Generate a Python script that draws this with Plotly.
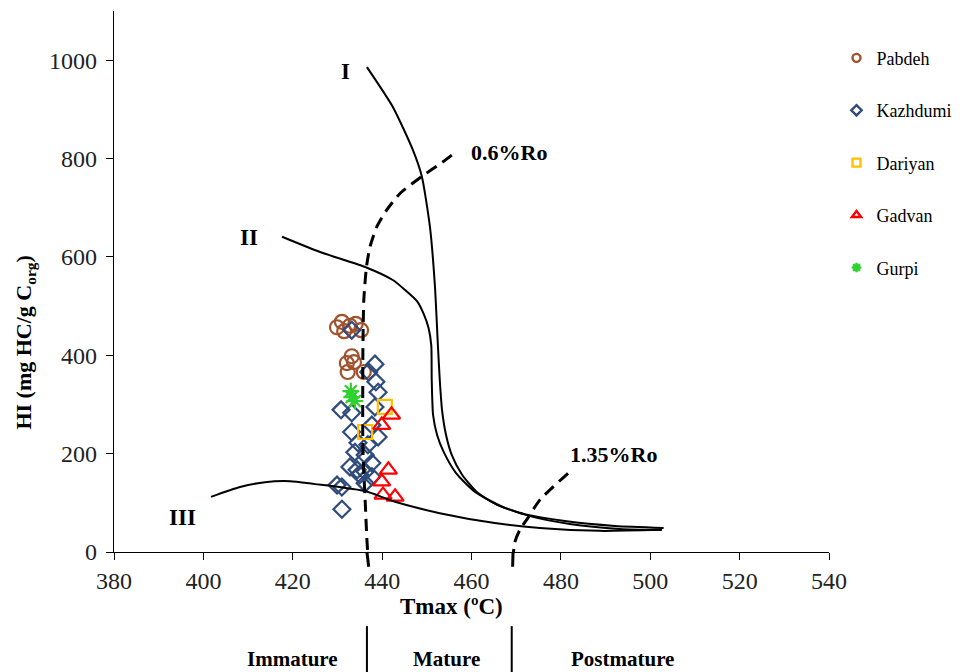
import plotly.graph_objects as go

# --- Sample data: Tmax (°C) and HI (mg HC/g Corg) per formation ---
pabdeh_tmax = [429.9, 431.0, 431.5, 432.8, 434.1, 435.3, 433.2, 432.1, 433.7, 432.3, 435.9]
pabdeh_hi = [457, 468, 449, 460, 464, 451, 398, 384, 386, 366, 366]

kazhdumi_tmax = [433.2, 438.4, 437.0, 438.6, 439.1, 430.8, 433.2, 438.4, 437.7, 433.2,
                 439.1, 434.6, 436.8, 433.9, 436.2, 437.7, 432.8, 434.4, 435.0, 436.2,
                 437.7, 436.2, 429.9, 431.0, 431.0]
kazhdumi_hi = [451, 382, 366, 346, 325, 289, 283, 295, 258, 244,
               234, 222, 218, 203, 197, 181, 173, 167, 157, 163,
               153, 140, 136, 132, 87]

dariyan_tmax = [440.6, 436.2]
dariyan_hi = [295, 244]

gadvan_tmax = [442.1, 439.9, 441.4, 439.9, 440.2, 442.9]
gadvan_hi = [279, 258, 167, 143, 116, 112]

gurpi_tmax = [433.0, 433.9, 433.2]
gurpi_hi = [327, 307, 315]

# --- Kerogen type evolution paths ---
type1_tmax = [436.6, 442.4, 446.9, 448.9, 450.7, 451.8, 452.5, 452.9, 453.4, 454.3,
              455.6, 457.9, 461.2, 465.7, 471.9, 480.9, 492.1, 503.0]
type1_hi = [986, 905, 817, 763, 661, 543, 417, 350, 289, 238,
            197, 157, 122, 96, 77, 63, 53, 49]

type2_tmax = [417.6, 426.1, 436.6, 442.4, 445.1, 447.8, 449.3, 450.4, 451.0, 451.1,
              451.4, 452.3, 453.8, 456.5, 460.8, 466.4, 473.1, 482.0, 493.2, 502.6]
type2_hi = [641, 610, 578, 553, 533, 510, 484, 455, 420, 350,
            279, 238, 203, 161, 122, 94, 73, 57, 47, 45]

type3_tmax = [401.7, 408.2, 413.8, 419.4, 425.0, 430.6, 436.2, 442.9, 452.9, 465.2,
              475.3, 488.7, 502.6]
type3_hi = [112, 132, 142, 144, 138, 132, 124, 102, 79, 59, 49, 43, 45]

# --- Vitrinite reflectance iso-lines ---
ro06_tmax = [455.6, 453.7, 448.8, 444.0, 441.0, 438.8, 437.3, 436.5, 435.9, 435.7,
             435.7, 436.2, 436.6, 437.0]
ro06_hi = [807, 794, 763, 729, 695, 661, 621, 580, 512, 411, 207, 106, 24, -30]

ro135_tmax = [481.6, 475.3, 472.6, 470.8, 469.7, 469.3, 469.2]
ro135_hi = [160, 106, 69, 45, 20, -10, -30]

# Maturity zone boundaries (Tmax, °C)
zone_bounds = [436.6, 469.0]
zone_names = ["Immature", "Mature", "Postmature"]
zone_centers = [420.0, 454.4, 493.9]

Y_MAX = 1100
FONT = "Liberation Serif"

series = [
    ("Pabdeh", pabdeh_tmax, pabdeh_hi, "circle-open", "#A0522D", 14, 0),
    ("Kazhdumi", kazhdumi_tmax, kazhdumi_hi, "diamond-open", "#2F4B7C", 13, 0),
    ("Dariyan", dariyan_tmax, dariyan_hi, "square-open", "#FFC000", 14, 0),
    ("Gadvan", gadvan_tmax, gadvan_hi, "triangle-up-open", "#FF0000", 15, 0),
    ("Gurpi", gurpi_tmax, gurpi_hi, "asterisk-open", "#2FD12F", 14, 90),
]

fig = go.Figure()

for name, xs, ys, sym, col, size, ang in series:
    fig.add_trace(go.Scatter(
        x=xs, y=ys, mode="markers", name=name, showlegend=False,
        marker=dict(symbol=sym, size=size, angle=ang, color=col,
                    line=dict(color=col, width=2.2)),
    ))

# Legend-only entries with compact symbols
for i, (name, xs, ys, sym, col, size, ang) in enumerate(series):
    fig.add_trace(go.Scatter(
        x=[None], y=[None], mode="markers", name=name, legendgroup=f"g{i}",
        marker=dict(symbol=sym, size=8, angle=ang, color=col,
                    line=dict(color=col, width=2.4)),
    ))

for xs, ys in [(type1_tmax, type1_hi), (type2_tmax, type2_hi), (type3_tmax, type3_hi)]:
    fig.add_trace(go.Scatter(
        x=xs, y=ys, mode="lines", showlegend=False, hoverinfo="skip",
        line=dict(color="black", width=2, shape="spline", smoothing=0.6),
    ))

for xs, ys in [(ro06_tmax, ro06_hi), (ro135_tmax, ro135_hi)]:
    fig.add_trace(go.Scatter(
        x=xs, y=ys, mode="lines", showlegend=False, hoverinfo="skip",
        line=dict(color="black", width=3, dash="12px,7px", shape="spline", smoothing=0.6),
    ))
    # continuation of the iso-line just below the Tmax axis
    fig.add_shape(type="line", xref="x", yref="paper",
                  x0=xs[-2], y0=0, x1=xs[-1], y1=ys[-1] / Y_MAX,
                  line=dict(color="black", width=3))

# Maturity zone separators under the axis
for b in zone_bounds:
    fig.add_shape(type="line", xref="x", yref="paper",
                  x0=b, x1=b, y0=-0.137, y1=-0.23,
                  line=dict(color="black", width=2))

annotations = [
    dict(x=431.9, y=976, text="<b>I</b>", xref="x", yref="y", showarrow=False,
         font=dict(size=23)),
    dict(x=410.2, y=640, text="<b>II</b>", xref="x", yref="y", showarrow=False,
         font=dict(size=23)),
    dict(x=395.4, y=71, text="<b>III</b>", xref="x", yref="y", showarrow=False,
         font=dict(size=23)),
    dict(x=459.4, y=813, text="<b>0.6%Ro</b>", xref="x", yref="y", showarrow=False,
         xanchor="left", font=dict(size=22)),
    dict(x=481.6, y=199, text="<b>1.35%Ro</b>", xref="x", yref="y", showarrow=False,
         xanchor="left", font=dict(size=22)),
    dict(x=455.6, y=-0.101, text="<b>Tmax (ºC)</b>", xref="x", yref="paper",
         xanchor="center", yanchor="middle", showarrow=False, font=dict(size=23)),
    dict(x=-0.1245, y=0.387, text="<b>HI (mg HC/g C<sub>org</sub>)</b>", xref="paper",
         yref="paper", xanchor="center", yanchor="middle", showarrow=False,
         textangle=-90, font=dict(size=22)),
]
for name, cx in zip(zone_names, zone_centers):
    annotations.append(dict(x=cx, y=-0.198, text=f"<b>{name}</b>", xref="x", yref="paper",
                            xanchor="center", yanchor="middle",
                            showarrow=False, font=dict(size=21)))

fig.update_layout(
    width=962, height=672,
    margin=dict(l=114, r=133, t=11, b=120, autoexpand=False),
    paper_bgcolor="white", plot_bgcolor="white",
    font=dict(family=FONT, color="black"),
    annotations=annotations,
    legend=dict(x=1.0105, y=0.947, xanchor="left", yanchor="top",
                font=dict(family=FONT, size=18, color="black"),
                tracegroupgap=26, traceorder="grouped",
                bgcolor="rgba(0,0,0,0)", itemwidth=30),
    xaxis=dict(range=[380, 540], dtick=20, tick0=380, showgrid=False, zeroline=False,
               showline=True, linecolor="black", linewidth=1.3,
               ticks="outside", ticklen=7, tickcolor="black", tickwidth=1.3,
               tickfont=dict(family=FONT, size=24, color="#222")),
    yaxis=dict(range=[0, Y_MAX], tickvals=[0, 200, 400, 600, 800, 1000],
               showgrid=False, zeroline=False,
               showline=True, linecolor="black", linewidth=1.3,
               ticks="outside", ticklen=7, tickcolor="black", tickwidth=1.3,
               ticklabelstandoff=4,
               tickfont=dict(family=FONT, size=24, color="#222")),
)

fig.write_html("out.html")
